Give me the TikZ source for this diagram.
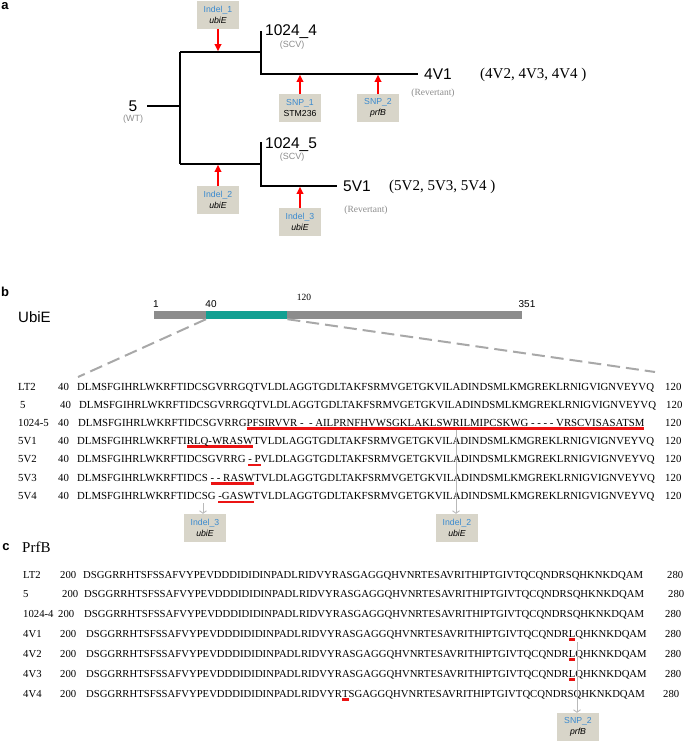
\documentclass[tikz,border=0pt]{standalone}
\usepackage{fontspec}
\setmainfont{Liberation Serif}
\newfontfamily\arial{Liberation Sans}
\usetikzlibrary{positioning,arrows.meta}

\definecolor{tagfill}{RGB}{216,213,201}
\definecolor{tagblue}{RGB}{58,138,207}
\definecolor{softgrey}{RGB}{140,140,140}
\definecolor{bargrey}{RGB}{140,140,140}
\definecolor{domteal}{RGB}{18,160,146}
\definecolor{zoomgrey}{RGB}{168,168,168}
\definecolor{pingrey}{RGB}{185,185,185}
\definecolor{mutred}{RGB}{235,20,20}

\newsavebox\mutsave
\newcommand\mut[1]{\sbox\mutsave{#1}\rlap{\color{mutred}\rule[-3.6pt]{\wd\mutsave}{2.3pt}}\usebox\mutsave}
\newcommand\seqsize{\fontsize{10.7}{12}\selectfont}

\begin{document}
\begin{tikzpicture}[x=1pt, y=-1pt,
  panel/.style={font=\arial\bfseries\fontsize{13}{13}\selectfont, inner sep=0},
  strain/.style={font=\arial\fontsize{15.5}{16}\selectfont, inner sep=0, anchor=base west},
  pheno/.style={font=\arial\fontsize{9}{10}\selectfont, text=softgrey, inner sep=0},
  revert/.style={font=\fontsize{9.5}{10}\selectfont, text=softgrey, inner sep=0},
  group/.style={font=\fontsize{15}{16}\selectfont, inner sep=0, anchor=base west},
  tag/.style={fill=tagfill, minimum width=42pt, minimum height=28pt, inner sep=0,
              align=center, font=\arial\fontsize{8.7}{11}\selectfont},
  branch/.style={line width=1.7pt},
  hit/.style={-{Triangle[length=7pt,width=6.5pt]}, draw=red, line width=2pt, shorten >=0.8pt},
  pin/.style={-{Straight Barb[length=2.5pt,width=7pt]}, draw=pingrey, line width=0.9pt},
  zoomline/.style={draw=zoomgrey, line width=2pt, dash pattern=on 13pt off 6pt},
  seq/.style={font=\seqsize, inner sep=0, anchor=base west},
  seqb/.style={seq, font=\fontsize{10.8}{12}\selectfont},
]
  \useasboundingbox (0,0) rectangle (685,742);

  % a: lineage tree
  \node[panel] (la) at (5,6) {a};

  \node[strain, anchor=base] (wt) at (133,111) {5};
  \node[pheno] (wtnote) at (133,119) {(WT)};

  \coordinate (root) at (147,106);
  \coordinate (fork) at (180,106);
  \coordinate (u0) at (180,52);
  \coordinate (u1) at (261,52);
  \coordinate (d0) at (180,164);
  \coordinate (d1) at (261,164);
  \coordinate (v4) at (418,74);
  \coordinate (v5) at (337,186);
  \draw[branch] (root) -- (fork) (u0) -- (d0) (u0) -- (u1) (d0) -- (d1);
  \draw[branch] (261,31) -- (u1 |- v4) -- (v4);
  \draw[branch] (261,142) -- (d1 |- v5) -- (v5);

  \node[strain] (scv4) at (265,35.5) {1024\_4};
  \node[pheno] (scv4note) at (292,45) {(SCV)};
  \node[strain] (scv5) at (265,148.5) {1024\_5};
  \node[pheno] (scv5note) at (292,157) {(SCV)};
  \node[strain] (rev4) at (424,79.5) {4V1};
  \node[revert] (rev4note) at (433,93) {(Revertant)};
  \node[group] (rev4all) at (480,78.5) {(4V2, 4V3, 4V4 )};
  \node[strain] (rev5) at (343,191.5) {5V1};
  \node[revert] (rev5note) at (366,210) {(Revertant)};
  \node[group] (rev5all) at (389,190) {(5V2, 5V3, 5V4 )};

  \node[tag] (ind1) at (218,15) {\color{tagblue}Indel\_1\\\textit{ubiE}};
  \node[tag] (snp1) at (300,108) {\color{tagblue}SNP\_1\\STM236};
  \node[tag] (snp2) at (378,108) {\color{tagblue}SNP\_2\\\textit{prfB}};
  \node[tag] (ind2) at (218,200) {\color{tagblue}Indel\_2\\\textit{ubiE}};
  \node[tag] (ind3) at (300,222) {\color{tagblue}Indel\_3\\\textit{ubiE}};

  \draw[hit] (ind1) -- (ind1 |- u1);
  \draw[hit] (snp1) -- (snp1 |- v4);
  \draw[hit] (snp2) -- (snp2 |- v4);
  \draw[hit] (ind2) -- (ind2 |- d1);
  \draw[hit] (ind3) -- (ind3 |- v5);

  % b: UbiE alignment 40-120
  \node[panel] (lb) at (5,292) {b};
  \node[font=\arial\fontsize{15}{16}\selectfont, inner sep=0, anchor=west] (ubie) at (18,317) {UbiE};

  \node[fill=bargrey, minimum width=368pt, minimum height=8pt, inner sep=0, anchor=west] (prot) at (154,315) {};
  \node[fill=domteal, minimum width=81pt, minimum height=8pt, inner sep=0, anchor=west] (dom) at (206,315) {};
  \node[font=\arial\fontsize{10}{10}\selectfont, inner sep=0] (p1) at (156,304) {1};
  \node[font=\arial\fontsize{10}{10}\selectfont, inner sep=0] (p40) at (211,304) {40};
  \node[font=\fontsize{9.5}{10}\selectfont, inner sep=0] (p120) at (304,297) {120};
  \node[font=\arial\fontsize{10}{10}\selectfont, inner sep=0] (p351) at (527,304) {351};

  \coordinate (zl) at (78,377);
  \coordinate (zr) at (655,372);
  \draw[zoomline] (dom.south west) -- (zl);
  \draw[zoomline] (dom.south east) -- (zr);

  \node[seqb] (bn1) at (18,390) {LT2};
  \node[seqb] (bs1) at (58,390) {40};
  \node[seqb] (bq1) at (77,390) {DLMSFGIHRLWKRFTIDCSGVRRGQTVLDLAGGTGDLTAKFSRMVGETGKVILADINDSMLKMGREKLRNIGVIGNVEYVQ};
  \node[seqb] (be1) at (665,390) {120};

  \node[seqb] (bn2) at (20,408) {5};
  \node[seqb] (bs2) at (60,408) {40};
  \node[seqb] (bq2) at (79,408) {DLMSFGIHRLWKRFTIDCSGVRRGQTVLDLAGGTGDLTAKFSRMVGETGKVILADINDSMLKMGREKLRNIGVIGNVEYVQ};
  \node[seqb] (be2) at (666,408) {120};

  \node[seqb] (bn3) at (18,426) {1024-5};
  \node[seqb] (bs3) at (58,426) {40};
  \node[seqb] (bq3) at (78,426) {DLMSFGIHRLWKRFTIDCSGVRRG\mut{PFSIRVVR -\ \ - AILPRNFHVWSGKLAKLSWRILMIPCSKWG - - - - VRSCVISASATSM}};
  \node[seqb] (be3) at (665,426) {120};

  \node[seqb] (bn4) at (18,444) {5V1};
  \node[seqb] (bs4) at (58,444) {40};
  \node[seqb] (bq4) at (77,444) {DLMSFGIHRLWKRFTI\mut{RLQ-WRASW}TVLDLAGGTGDLTAKFSRMVGETGKVILADINDSMLKMGREKLRNIGVIGNVEYVQ};
  \node[seqb] (be4) at (665,444) {120};

  \node[seqb] (bn5) at (18,462.5) {5V2};
  \node[seqb] (bs5) at (58,462.5) {40};
  \node[seqb] (bq5) at (77,462.5) {DLMSFGIHRLWKRFTIDCSGVRRG \mut{- P}VLDLAGGTGDLTAKFSRMVGETGKVILADINDSMLKMGREKLRNIGVIGNVEYVQ};
  \node[seqb] (be5) at (665,462.5) {120};

  \node[seqb] (bn6) at (18,481) {5V3};
  \node[seqb] (bs6) at (58,481) {40};
  \node[seqb] (bq6) at (77,481) {DLMSFGIHRLWKRFTIDCS \mut{- - RASW}TVLDLAGGTGDLTAKFSRMVGETGKVILADINDSMLKMGREKLRNIGVIGNVEYVQ};
  \node[seqb] (be6) at (665,481) {120};

  \node[seqb] (bn7) at (18,499.5) {5V4};
  \node[seqb] (bs7) at (58,499.5) {40};
  \node[seqb] (bq7) at (77,499.5) {DLMSFGIHRLWKRFTIDCSG \mut{-GASW}TVLDLAGGTGDLTAKFSRMVGETGKVILADINDSMLKMGREKLRNIGVIGNVEYVQ};
  \node[seqb] (be7) at (665,499.5) {120};

  \node[tag] (ind3b) at (205,528) {\color{tagblue}Indel\_3\\\textit{ubiE}};
  \node[tag] (ind2b) at (457,528) {\color{tagblue}Indel\_2\\\textit{ubiE}};
  \coordinate (i3from) at (203,503);
  \coordinate (i2from) at (456,430);
  \draw[pin] (i3from) -- (i3from |- ind3b.north);
  \draw[pin] (i2from) -- (i2from |- ind2b.north);

  % c: PrfB alignment 200-280
  \node[panel] (lc) at (6,547) {c};
  \node[group] (prfb) at (22,552.5) {PrfB};

  \node[seq] (cn1) at (23,578) {LT2};
  \node[seq] (cs1) at (60,578) {200};
  \node[seq] (cq1) at (83,578) {DSGGRRHTSFSSAFVYPEVDDDIDIDINPADLRIDVYRASGAGGQHVNRTESAVRITHIPTGIVTQCQNDRSQHKNKDQAM};
  \node[seq] (ce1) at (667,578) {280};

  \node[seq] (cn2) at (23,597) {5};
  \node[seq] (cs2) at (62,597) {200};
  \node[seq] (cq2) at (84,597) {DSGGRRHTSFSSAFVYPEVDDDIDIDINPADLRIDVYRASGAGGQHVNRTESAVRITHIPTGIVTQCQNDRSQHKNKDQAM};
  \node[seq] (ce2) at (668,597) {280};

  \node[seq] (cn3) at (23,617) {1024-4};
  \node[seq] (cs3) at (58,617) {200};
  \node[seq] (cq3) at (84,617) {DSGGRRHTSFSSAFVYPEVDDDIDIDINPADLRIDVYRASGAGGQHVNRTESAVRITHIPTGIVTQCQNDRSQHKNKDQAM};
  \node[seq] (ce3) at (665,617) {280};

  \node[seq] (cn4) at (23,637) {4V1};
  \node[seq] (cs4) at (60,637) {200};
  \node[seq] (cq4) at (86,637) {DSGGRRHTSFSSAFVYPEVDDDIDIDINPADLRIDVYRASGAGGQHVNRTESAVRITHIPTGIVTQCQNDR\mut{L}QHKNKDQAM};
  \node[seq] (ce4) at (665,637) {280};

  \node[seq] (cn5) at (23,657) {4V2};
  \node[seq] (cs5) at (60,657) {200};
  \node[seq] (cq5) at (86,657) {DSGGRRHTSFSSAFVYPEVDDDIDIDINPADLRIDVYRASGAGGQHVNRTESAVRITHIPTGIVTQCQNDR\mut{L}QHKNKDQAM};
  \node[seq] (ce5) at (665,657) {280};

  \node[seq] (cn6) at (23,677) {4V3};
  \node[seq] (cs6) at (60,677) {200};
  \node[seq] (cq6) at (86,677) {DSGGRRHTSFSSAFVYPEVDDDIDIDINPADLRIDVYRASGAGGQHVNRTESAVRITHIPTGIVTQCQNDR\mut{L}QHKNKDQAM};
  \node[seq] (ce6) at (665,677) {280};

  \node[seq] (cn7) at (23,697) {4V4};
  \node[seq] (cs7) at (60,697) {200};
  \node[seq] (cq7) at (86,697) {DSGGRRHTSFSSAFVYPEVDDDIDIDINPADLRIDVYR\mut{T}SGAGGQHVNRTESAVRITHIPTGIVTQCQNDRSQHKNKDQAM};
  \node[seq] (ce7) at (663,697) {280};

  \node[tag] (snp2c) at (578,727) {\color{tagblue}SNP\_2\\\textit{prfB}};
  \coordinate (s2from) at (577,642);
  \draw[pin] (s2from) -- (s2from |- snp2c.north);
\end{tikzpicture}
\end{document}
